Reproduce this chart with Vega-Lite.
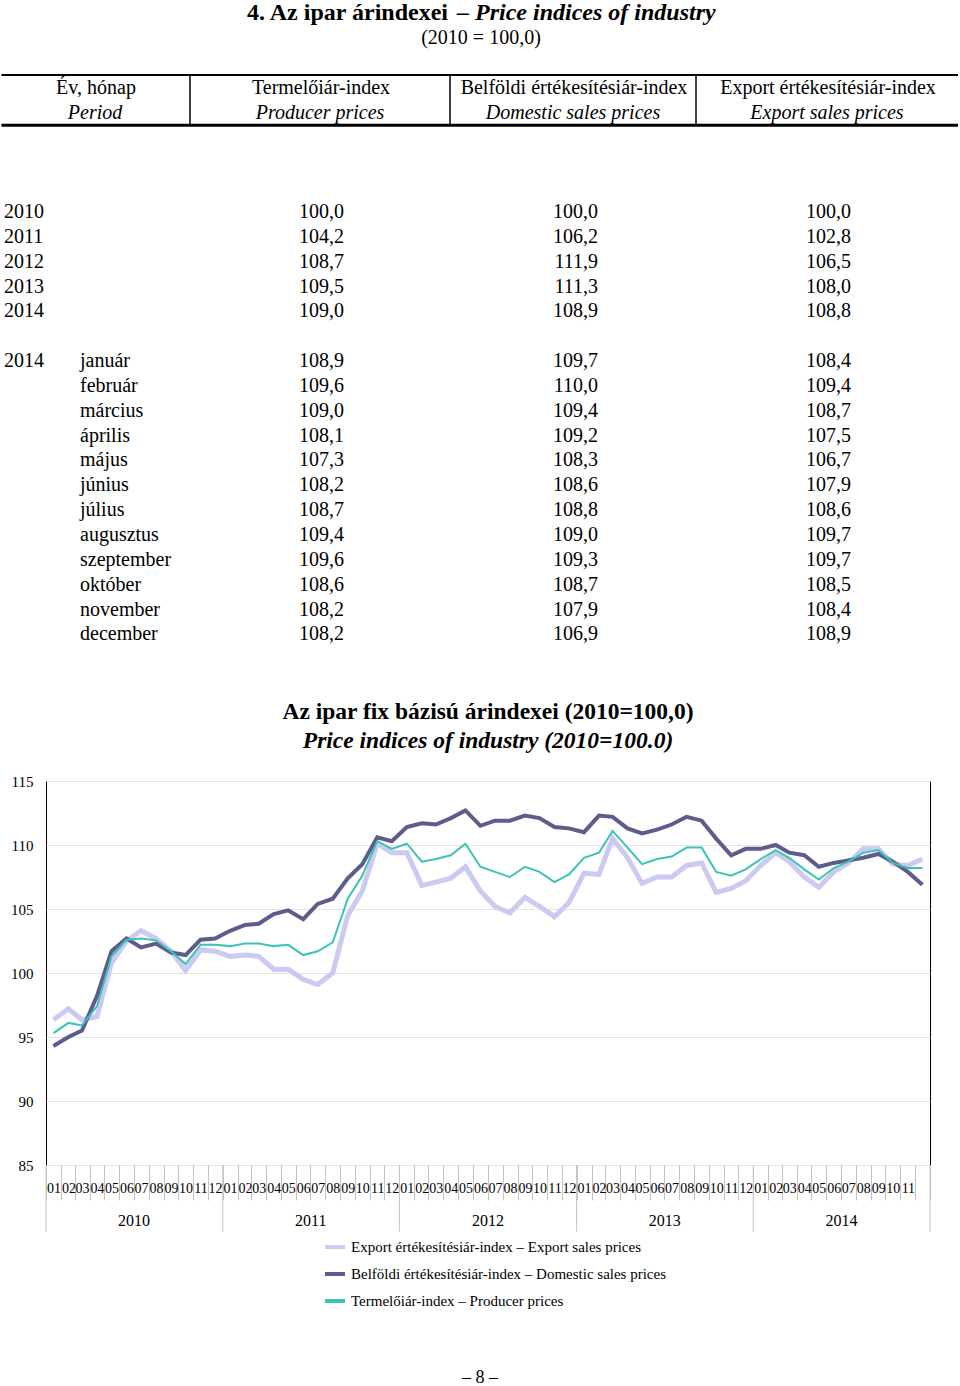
{
  "$schema": "https://vega.github.io/schema/vega-lite/v6.json",
  "padding": 0,
  "background": "white",
  "spacing": 131,
  "bounds": "flush",
  "config": {
    "view": {"stroke": null},
    "font": "Liberation Serif",
    "axis": {"labelColor": "black", "labelFont": "Liberation Serif"}
  },
  "datasets": {
    "tbl": [
      {"r": 0, "yr": "2010", "mo": "", "p": 100.0, "d": 100.0, "e": 100.0},
      {"r": 1, "yr": "2011", "mo": "", "p": 104.2, "d": 106.2, "e": 102.8},
      {"r": 2, "yr": "2012", "mo": "", "p": 108.7, "d": 111.9, "e": 106.5},
      {"r": 3, "yr": "2013", "mo": "", "p": 109.5, "d": 111.3, "e": 108.0},
      {"r": 4, "yr": "2014", "mo": "", "p": 109.0, "d": 108.9, "e": 108.8},
      {"r": 6, "yr": "2014", "mo": "január", "p": 108.9, "d": 109.7, "e": 108.4},
      {"r": 7, "yr": "", "mo": "február", "p": 109.6, "d": 110.0, "e": 109.4},
      {"r": 8, "yr": "", "mo": "március", "p": 109.0, "d": 109.4, "e": 108.7},
      {"r": 9, "yr": "", "mo": "április", "p": 108.1, "d": 109.2, "e": 107.5},
      {"r": 10, "yr": "", "mo": "május", "p": 107.3, "d": 108.3, "e": 106.7},
      {"r": 11, "yr": "", "mo": "június", "p": 108.2, "d": 108.6, "e": 107.9},
      {"r": 12, "yr": "", "mo": "július", "p": 108.7, "d": 108.8, "e": 108.6},
      {"r": 13, "yr": "", "mo": "augusztus", "p": 109.4, "d": 109.0, "e": 109.7},
      {"r": 14, "yr": "", "mo": "szeptember", "p": 109.6, "d": 109.3, "e": 109.7},
      {"r": 15, "yr": "", "mo": "október", "p": 108.6, "d": 108.7, "e": 108.5},
      {"r": 16, "yr": "", "mo": "november", "p": 108.2, "d": 107.9, "e": 108.4},
      {"r": 17, "yr": "", "mo": "december", "p": 108.2, "d": 106.9, "e": 108.9}
    ],
    "series": [
      {"m": "2010-01-01", "exp": 96.35, "dom": 94.3, "prod": 95.3},
      {"m": "2010-02-01", "exp": 97.2, "dom": 95.0, "prod": 96.1},
      {"m": "2010-03-01", "exp": 96.35, "dom": 95.5, "prod": 95.9},
      {"m": "2010-04-01", "exp": 96.6, "dom": 98.2, "prod": 97.4},
      {"m": "2010-05-01", "exp": 100.8, "dom": 101.7, "prod": 101.3},
      {"m": "2010-06-01", "exp": 102.5, "dom": 102.7, "prod": 102.6},
      {"m": "2010-07-01", "exp": 103.3, "dom": 102.0, "prod": 102.7},
      {"m": "2010-08-01", "exp": 102.7, "dom": 102.3, "prod": 102.55},
      {"m": "2010-09-01", "exp": 101.7, "dom": 101.6, "prod": 101.7},
      {"m": "2010-10-01", "exp": 100.2, "dom": 101.4, "prod": 100.7},
      {"m": "2010-11-01", "exp": 101.8, "dom": 102.6, "prod": 102.2},
      {"m": "2010-12-01", "exp": 101.7, "dom": 102.7, "prod": 102.2},
      {"m": "2011-01-01", "exp": 101.3, "dom": 103.3, "prod": 102.1},
      {"m": "2011-02-01", "exp": 101.4, "dom": 103.75, "prod": 102.3},
      {"m": "2011-03-01", "exp": 101.3, "dom": 103.85, "prod": 102.3},
      {"m": "2011-04-01", "exp": 100.3, "dom": 104.6, "prod": 102.1},
      {"m": "2011-05-01", "exp": 100.3, "dom": 104.9, "prod": 102.2},
      {"m": "2011-06-01", "exp": 99.5, "dom": 104.2, "prod": 101.4},
      {"m": "2011-07-01", "exp": 99.1, "dom": 105.4, "prod": 101.7},
      {"m": "2011-08-01", "exp": 100.0, "dom": 105.8, "prod": 102.4},
      {"m": "2011-09-01", "exp": 104.5, "dom": 107.4, "prod": 105.8},
      {"m": "2011-10-01", "exp": 106.4, "dom": 108.5, "prod": 107.6},
      {"m": "2011-11-01", "exp": 110.1, "dom": 110.6, "prod": 110.3},
      {"m": "2011-12-01", "exp": 109.4, "dom": 110.3, "prod": 109.7},
      {"m": "2012-01-01", "exp": 109.4, "dom": 111.4, "prod": 110.1},
      {"m": "2012-02-01", "exp": 106.85, "dom": 111.7, "prod": 108.7},
      {"m": "2012-03-01", "exp": 107.1, "dom": 111.6, "prod": 108.9},
      {"m": "2012-04-01", "exp": 107.4, "dom": 112.1, "prod": 109.2},
      {"m": "2012-05-01", "exp": 108.3, "dom": 112.7, "prod": 110.1},
      {"m": "2012-06-01", "exp": 106.4, "dom": 111.5, "prod": 108.3},
      {"m": "2012-07-01", "exp": 105.2, "dom": 111.9, "prod": 107.9},
      {"m": "2012-08-01", "exp": 104.7, "dom": 111.9, "prod": 107.5},
      {"m": "2012-09-01", "exp": 105.9, "dom": 112.3, "prod": 108.3},
      {"m": "2012-10-01", "exp": 105.2, "dom": 112.1, "prod": 107.9},
      {"m": "2012-11-01", "exp": 104.4, "dom": 111.4, "prod": 107.1},
      {"m": "2012-12-01", "exp": 105.5, "dom": 111.3, "prod": 107.7},
      {"m": "2013-01-01", "exp": 107.8, "dom": 111.0, "prod": 109.0},
      {"m": "2013-02-01", "exp": 107.7, "dom": 112.3, "prod": 109.4},
      {"m": "2013-03-01", "exp": 110.5, "dom": 112.2, "prod": 111.1},
      {"m": "2013-04-01", "exp": 109.0, "dom": 111.3, "prod": 109.8},
      {"m": "2013-05-01", "exp": 107.0, "dom": 110.9, "prod": 108.5},
      {"m": "2013-06-01", "exp": 107.5, "dom": 111.2, "prod": 108.9},
      {"m": "2013-07-01", "exp": 107.5, "dom": 111.6, "prod": 109.1},
      {"m": "2013-08-01", "exp": 108.4, "dom": 112.2, "prod": 109.8},
      {"m": "2013-09-01", "exp": 108.6, "dom": 111.9, "prod": 109.8},
      {"m": "2013-10-01", "exp": 106.3, "dom": 110.5, "prod": 107.9},
      {"m": "2013-11-01", "exp": 106.6, "dom": 109.2, "prod": 107.6},
      {"m": "2013-12-01", "exp": 107.2, "dom": 109.7, "prod": 108.1},
      {"m": "2014-01-01", "exp": 108.4, "dom": 109.7, "prod": 108.9},
      {"m": "2014-02-01", "exp": 109.4, "dom": 110.0, "prod": 109.6},
      {"m": "2014-03-01", "exp": 108.7, "dom": 109.4, "prod": 109.0},
      {"m": "2014-04-01", "exp": 107.5, "dom": 109.2, "prod": 108.1},
      {"m": "2014-05-01", "exp": 106.7, "dom": 108.3, "prod": 107.3},
      {"m": "2014-06-01", "exp": 107.9, "dom": 108.6, "prod": 108.2},
      {"m": "2014-07-01", "exp": 108.6, "dom": 108.8, "prod": 108.7},
      {"m": "2014-08-01", "exp": 109.7, "dom": 109.0, "prod": 109.4},
      {"m": "2014-09-01", "exp": 109.7, "dom": 109.3, "prod": 109.6},
      {"m": "2014-10-01", "exp": 108.5, "dom": 108.7, "prod": 108.6},
      {"m": "2014-11-01", "exp": 108.4, "dom": 107.9, "prod": 108.2},
      {"m": "2014-12-01", "exp": 108.9, "dom": 106.9, "prod": 108.2}
    ],
    "yearmid": [
      {"m": "2010-07-02", "yr": "2010"}, {"m": "2011-07-02", "yr": "2011"}, {"m": "2012-07-02", "yr": "2012"},
      {"m": "2013-07-02", "yr": "2013"}, {"m": "2014-07-02", "yr": "2014"}
    ],
    "yearstart": [{"m": "2010-01-01"}, {"m": "2011-01-01"}, {"m": "2012-01-01"}, {"m": "2013-01-01"}, {"m": "2014-01-01"}, {"m": "2015-01-01"}]
  },
  "vconcat": [
    {
      "width": 884,
      "height": 650,
      "layer": [
        {
          "data": {"values": [{}]},
          "mark": {"type": "rule", "stroke": "black", "strokeWidth": 2},
          "encoding": {
            "x": {"datum": 1.5, "type": "quantitative", "scale": {"domain": [46, 930], "nice": false, "zero": false}, "axis": null},
            "x2": {"datum": 958},
            "y": {"datum": -5.51, "type": "quantitative", "scale": {"domain": [-8.531, 17.626], "reverse": true, "nice": false, "zero": false}, "axis": null}
          }
        },
        {
          "data": {"values": [{}]},
          "mark": {"type": "rule", "stroke": "black", "strokeWidth": 3},
          "encoding": {
            "x": {"datum": 1.5, "type": "quantitative", "axis": null},
            "x2": {"datum": 958},
            "y": {"datum": -3.49, "type": "quantitative", "axis": null}
          }
        },
        {
          "data": {"values": [{"s": 190}, {"s": 450}, {"s": 696}]},
          "mark": {"type": "rule", "stroke": "black", "strokeWidth": 1.5},
          "encoding": {
            "x": {"field": "s", "type": "quantitative", "axis": null},
            "y": {"datum": -5.51, "type": "quantitative", "axis": null},
            "y2": {"datum": -3.49}
          }
        },
        {
          "data": {"values": [{}]},
          "mark": {"type": "text", "text": "4. Az ipar árindexei", "align": "right", "baseline": "middle", "fontSize": 24, "fontWeight": "bold", "color": "black"},
          "encoding": {"x": {"datum": 448, "type": "quantitative", "axis": null}, "y": {"datum": -8, "type": "quantitative", "axis": null}}
        },
        {
          "data": {"values": [{}]},
          "mark": {"type": "text", "text": "– Price indices of industry", "align": "left", "baseline": "middle", "fontSize": 24, "fontWeight": "bold", "fontStyle": "italic", "color": "black"},
          "encoding": {"x": {"datum": 457, "type": "quantitative", "axis": null}, "y": {"datum": -8, "type": "quantitative", "axis": null}}
        },
        {
          "data": {"values": [{}]},
          "mark": {"type": "text", "text": "(2010 = 100,0)", "align": "center", "baseline": "middle", "fontSize": 20, "color": "black"},
          "encoding": {"x": {"datum": 481, "type": "quantitative", "axis": null}, "y": {"datum": -7, "type": "quantitative", "axis": null}}
        },
        {
          "data": {"values": [{}]},
          "mark": {"type": "text", "text": "Év, hónap", "align": "center", "baseline": "middle", "fontSize": 20, "color": "black"},
          "encoding": {"x": {"datum": 96, "type": "quantitative", "axis": null}, "y": {"datum": -5, "type": "quantitative", "axis": null}}
        },
        {
          "data": {"values": [{}]},
          "mark": {"type": "text", "text": "Termelőiár-index", "align": "center", "baseline": "middle", "fontSize": 20, "color": "black"},
          "encoding": {"x": {"datum": 321, "type": "quantitative", "axis": null}, "y": {"datum": -5, "type": "quantitative", "axis": null}}
        },
        {
          "data": {"values": [{}]},
          "mark": {"type": "text", "text": "Belföldi értékesítésiár-index", "align": "center", "baseline": "middle", "fontSize": 20, "color": "black"},
          "encoding": {"x": {"datum": 574, "type": "quantitative", "axis": null}, "y": {"datum": -5, "type": "quantitative", "axis": null}}
        },
        {
          "data": {"values": [{}]},
          "mark": {"type": "text", "text": "Export értékesítésiár-index", "align": "center", "baseline": "middle", "fontSize": 20, "color": "black"},
          "encoding": {"x": {"datum": 828, "type": "quantitative", "axis": null}, "y": {"datum": -5, "type": "quantitative", "axis": null}}
        },
        {
          "data": {"values": [{}]},
          "mark": {"type": "text", "text": "Period", "align": "center", "baseline": "middle", "fontSize": 20, "fontStyle": "italic", "color": "black"},
          "encoding": {"x": {"datum": 95, "type": "quantitative", "axis": null}, "y": {"datum": -4, "type": "quantitative", "axis": null}}
        },
        {
          "data": {"values": [{}]},
          "mark": {"type": "text", "text": "Producer prices", "align": "center", "baseline": "middle", "fontSize": 20, "fontStyle": "italic", "color": "black"},
          "encoding": {"x": {"datum": 320, "type": "quantitative", "axis": null}, "y": {"datum": -4, "type": "quantitative", "axis": null}}
        },
        {
          "data": {"values": [{}]},
          "mark": {"type": "text", "text": "Domestic sales prices", "align": "center", "baseline": "middle", "fontSize": 20, "fontStyle": "italic", "color": "black"},
          "encoding": {"x": {"datum": 573, "type": "quantitative", "axis": null}, "y": {"datum": -4, "type": "quantitative", "axis": null}}
        },
        {
          "data": {"values": [{}]},
          "mark": {"type": "text", "text": "Export sales prices", "align": "center", "baseline": "middle", "fontSize": 20, "fontStyle": "italic", "color": "black"},
          "encoding": {"x": {"datum": 827, "type": "quantitative", "axis": null}, "y": {"datum": -4, "type": "quantitative", "axis": null}}
        },
        {
          "data": {"name": "tbl"},
          "mark": {"type": "text", "align": "left", "baseline": "middle", "fontSize": 20, "color": "black"},
          "encoding": {"x": {"datum": 4, "type": "quantitative", "axis": null}, "y": {"field": "r", "type": "quantitative", "axis": null}, "text": {"field": "yr", "type": "nominal"}}
        },
        {
          "data": {"name": "tbl"},
          "mark": {"type": "text", "align": "left", "baseline": "middle", "fontSize": 20, "color": "black"},
          "encoding": {"x": {"datum": 80, "type": "quantitative", "axis": null}, "y": {"field": "r", "type": "quantitative", "axis": null}, "text": {"field": "mo", "type": "nominal"}}
        },
        {
          "data": {"name": "tbl"},
          "transform": [{"calculate": "replace(format(datum.p, '.1f'), '.', ',')", "as": "ps"}],
          "mark": {"type": "text", "align": "right", "baseline": "middle", "fontSize": 20, "color": "black"},
          "encoding": {"x": {"datum": 344, "type": "quantitative", "axis": null}, "y": {"field": "r", "type": "quantitative", "axis": null}, "text": {"field": "ps", "type": "nominal"}}
        },
        {
          "data": {"name": "tbl"},
          "transform": [{"calculate": "replace(format(datum.d, '.1f'), '.', ',')", "as": "ds"}],
          "mark": {"type": "text", "align": "right", "baseline": "middle", "fontSize": 20, "color": "black"},
          "encoding": {"x": {"datum": 598, "type": "quantitative", "axis": null}, "y": {"field": "r", "type": "quantitative", "axis": null}, "text": {"field": "ds", "type": "nominal"}}
        },
        {
          "data": {"name": "tbl"},
          "transform": [{"calculate": "replace(format(datum.e, '.1f'), '.', ',')", "as": "es"}],
          "mark": {"type": "text", "align": "right", "baseline": "middle", "fontSize": 20, "color": "black"},
          "encoding": {"x": {"datum": 851, "type": "quantitative", "axis": null}, "y": {"field": "r", "type": "quantitative", "axis": null}, "text": {"field": "es", "type": "nominal"}}
        }
      ]
    },
    {
      "width": 884,
      "height": 384,
      "view": {"stroke": "black"},
      "title": {
        "text": "Az ipar fix bázisú árindexei (2010=100,0)",
        "subtitle": "Price indices of industry (2010=100.0)",
        "anchor": "middle",
        "offset": 22,
        "font": "Liberation Serif",
        "fontSize": 23.5,
        "fontWeight": "bold",
        "color": "black",
        "subtitleFont": "Liberation Serif",
        "subtitleFontSize": 23.5,
        "subtitleFontWeight": "bold",
        "subtitleFontStyle": "italic",
        "subtitleColor": "black",
        "subtitlePadding": 5
      },
      "layer": [
        {
          "data": {"name": "series"},
          "mark": {"type": "line", "strokeWidth": 5, "xOffset": 7.4},
          "encoding": {
            "x": {
              "field": "m", "type": "temporal",
              "scale": {"type": "utc", "domain": [{"year": 2010, "month": 1, "date": 1, "utc": true}, {"year": 2015, "month": 1, "date": 1, "utc": true}], "nice": false},
              "axis": {
                "title": null, "tickCount": {"interval": "month", "step": 1},
                "labelExpr": "utcFormat(datum.value, '%Y-%m') >= '2014-12' ? '' : utcFormat(datum.value, '%m')",
                "labelAngle": 0, "labelOverlap": false, "labelFlush": false, "labelFontSize": 14, "labelColor": "black",
                "labelOffset": 7.4, "tickSize": 35, "tickColor": "#c4c4c4", "tickWidth": 1,
                "domain": false, "grid": false, "labelPadding": -19
              }
            },
            "y": {
              "field": "exp", "type": "quantitative",
              "scale": {"domain": [85, 115], "nice": false, "zero": false},
              "axis": {
                "title": null, "values": [85, 90, 95, 100, 105, 110, 115],
                "grid": true, "gridColor": "#e3e3e3", "domain": false, "tickSize": 0,
                "labelPadding": 13, "labelFontSize": 15, "labelColor": "black"
              }
            },
            "color": {
              "datum": "Export értékesítésiár-index – Export sales prices", "type": "nominal",
              "scale": {
                "domain": ["Export értékesítésiár-index – Export sales prices", "Belföldi értékesítésiár-index – Domestic sales prices", "Termelőiár-index – Producer prices"],
                "range": ["#cacaf2", "#5d5d8d", "#3cc3b3"]
              },
              "legend": {
                "orient": "none", "legendX": 277, "legendY": 1235, "title": null, "direction": "vertical",
                "symbolType": "stroke", "symbolStrokeWidth": 4, "symbolSize": 400, "rowPadding": 7,
                "labelFontSize": 15, "labelColor": "black", "labelLimit": 500
              }
            }
          }
        },
        {
          "data": {"name": "series"},
          "mark": {"type": "line", "strokeWidth": 4, "xOffset": 7.4},
          "encoding": {
            "x": {"field": "m", "type": "temporal"},
            "y": {"field": "dom", "type": "quantitative"},
            "color": {"datum": "Belföldi értékesítésiár-index – Domestic sales prices", "type": "nominal"}
          }
        },
        {
          "data": {"name": "series"},
          "mark": {"type": "line", "strokeWidth": 2, "xOffset": 7.4},
          "encoding": {
            "x": {"field": "m", "type": "temporal"},
            "y": {"field": "prod", "type": "quantitative"},
            "color": {"datum": "Termelőiár-index – Producer prices", "type": "nominal"}
          }
        },
        {
          "data": {"name": "yearstart"},
          "mark": {"type": "rule", "color": "#c4c4c4", "strokeWidth": 1},
          "encoding": {
            "x": {"field": "m", "type": "temporal"},
            "y": {"datum": 85, "type": "quantitative"},
            "y2": {"datum": 79.8}
          }
        },
        {
          "data": {"name": "yearmid"},
          "mark": {"type": "text", "fontSize": 16, "color": "black", "baseline": "middle", "align": "center"},
          "encoding": {
            "x": {"field": "m", "type": "temporal"},
            "y": {"datum": 80.6, "type": "quantitative"},
            "text": {"field": "yr", "type": "nominal"}
          }
        }
      ]
    },
    {
      "width": 884,
      "height": 90,
      "data": {"values": [{"t": "– 8 –"}]},
      "mark": {"type": "text", "font": "Liberation Serif", "fontSize": 18, "color": "black", "dy": 37, "dx": -8},
      "encoding": {"text": {"field": "t", "type": "nominal"}}
    }
  ]
}
